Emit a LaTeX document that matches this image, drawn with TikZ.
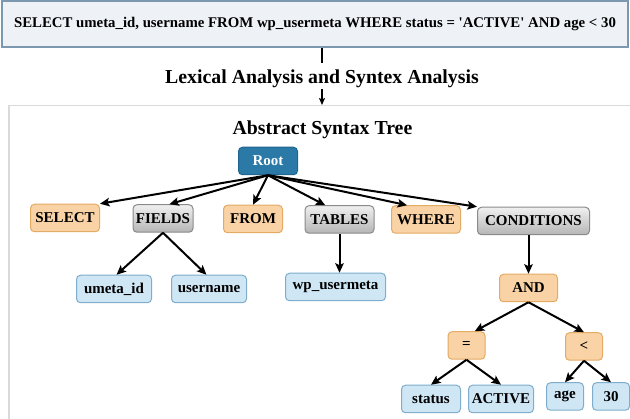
\documentclass[tikz,border=0pt]{standalone}
\usepackage{fontspec}
\setmainfont{Liberation Serif}
\usetikzlibrary{arrows.meta}
\usetikzlibrary{positioning}

\definecolor{kwfill}{HTML}{F9D3A6}
\definecolor{kwline}{HTML}{E3AB63}
\definecolor{valfill}{HTML}{CFE6F5}
\definecolor{valline}{HTML}{7EAECB}
\definecolor{rootfill}{HTML}{2A79A6}
\definecolor{rootline}{HTML}{1E6690}
\definecolor{sqlfill}{HTML}{EEF2F6}
\definecolor{sqlline}{HTML}{7B98AE}
\definecolor{astline}{HTML}{DADADA}
\definecolor{grpline}{HTML}{8A8A8A}

\tikzset{
  treebox/.style={rounded corners=4pt, line width=1pt, minimum height=27.5pt, inner sep=0pt,
    font=\fontsize{15}{17}\selectfont\bfseries},
  kwbox/.style={treebox, draw=kwline, fill=kwfill},
  grpbox/.style={treebox, draw=grpline, top color=gray!12, bottom color=gray!58},
  valbox/.style={treebox, draw=valline, fill=valfill},
  rootbox/.style={treebox, draw=rootline, fill=rootfill, text=white},
  arr/.style={line width=2pt, -{Stealth[length=9.5pt,width=8.5pt,inset=2pt]}},
  bigfont/.style={font=\fontsize{19.8}{22}\selectfont\bfseries},
}

\begin{document}
\begin{tikzpicture}[x=1pt,y=-1pt]
  \useasboundingbox (0,0) rectangle (630,419);
  \clip (0,0) rectangle (630,419);

  %query
  \node[draw=sqlline, fill=sqlfill, line width=1.2pt, minimum width=626pt, minimum height=46pt,
    inner sep=0pt, font=\fontsize{14.8}{17}\selectfont\bfseries] (sql) at (315,24)
    {SELECT umeta\_id, username FROM wp\_usermeta WHERE status = \textquotesingle ACTIVE\textquotesingle{} AND age < 30};

  %parsing step
  \node[bigfont, anchor=base, inner ysep=1pt] (lex) at (322,84) {Lexical Analysis and Syntex Analysis};
  \node[draw=astline, line width=1.5pt, anchor=north west, minimum width=660pt, minimum height=340pt,
    inner sep=0pt] (ast) at (8,105) {};
  \draw[line width=2pt] (sql.south -| lex.north) -- ([yshift=6pt]lex.north);
  \draw[line width=1.6pt, -{Stealth[length=7pt,width=6pt,inset=1.5pt]}] (lex.south) -- (ast.north -| lex.south);

  \node[bigfont, anchor=base] (asttitle) at (322.5,135) {Abstract Syntax Tree};

  %tree
  \node[rootbox, minimum width=59pt] (root) at (268,161) {Root};

  \foreach \name/\x/\y/\w/\txt in {select/65/218/69/SELECT, from/253/219/59/FROM, where/426/219.5/69/WHERE,
                                   and/528.5/288/58/AND, eq/466.5/345.5/37/=, lt/584/346.5/37/<}{
    \node[kwbox, minimum width=\w pt] (\name) at (\x,\y) {\txt};
  }

  \foreach \name/\x/\y/\w/\txt in {fields/163/218.5/60/FIELDS, tables/339.5/219.5/69/TABLES,
                                   conditions/533.5/221/112/CONDITIONS}{
    \node[grpbox, minimum width=\w pt] (\name) at (\x,\y) {\txt};
  }

  \foreach \name/\x/\y/\w/\txt in {umeta/114/289/75/umeta\_id, username/209/289/75/username,
                                   wpum/335.5/287/100/wp\_usermeta, status/431/399/59/status,
                                   active/501/399/65/ACTIVE, age/565/396.5/37/age, thirty/611/396.5/37/30}{
    \node[valbox, minimum width=\w pt] (\name) at (\x,\y) {\txt};
  }

  %edges
  \foreach \a/\b in {root.south/select.north east, root.south/fields.66, root.south/from.north,
                     root.south/tables.135, root.south/where.143, root.south/conditions.north west,
                     fields.south/umeta.80, fields.south/username.100,
                     and.south/eq.60, and.south/lt.north,
                     eq.south/status.north, eq.south/active.north, lt.south/age.north, lt.south/thirty.north}{
    \draw[arr] (\a) -- (\b);
  }
  \draw[arr] (tables.south) -- (tables.south |- wpum.north);
  \draw[arr] (and.north |- conditions.south) -- (and.north);
\end{tikzpicture}
\end{document}
